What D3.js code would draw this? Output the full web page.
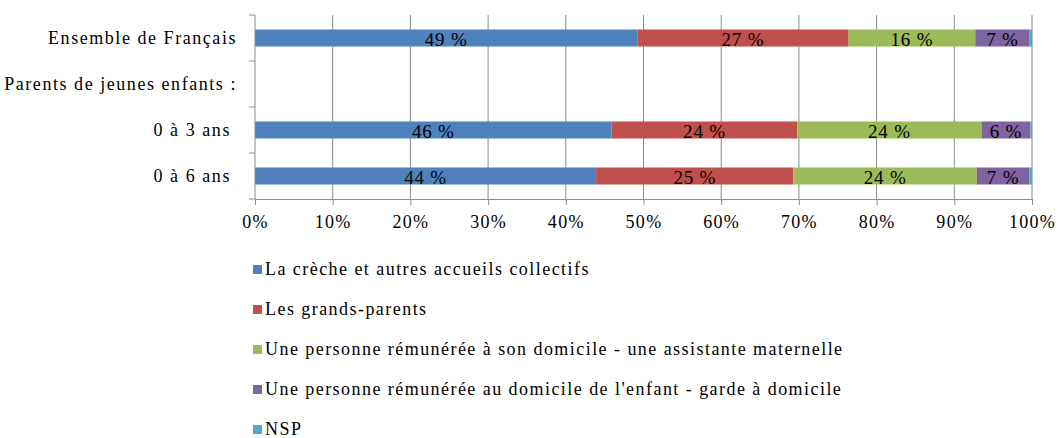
<!DOCTYPE html>
<html>
<head>
<meta charset="utf-8">
<script src="https://cdn.jsdelivr.net/npm/d3@7"></script>
<style>
  body { margin: 0; background: #fff; }
  #chart text { fill: #000; white-space: pre; }
</style>
</head>
<body>
<div id="chart"></div>
<script>
// categories (the second one is only a header line, no bar)
var categories = ["Ensemble de Français", "Parents de jeunes enfants :", "0 à 3 ans ", "0 à 6 ans "];
var seriesNames = [
  "La crèche et autres accueils collectifs",
  "Les grands-parents",
  "Une personne rémunérée à son domicile - une assistante maternelle",
  "Une personne rémunérée au domicile de l'enfant - garde à domicile",
  "NSP"
];
var seriesColors = ["#4F81BD", "#C0504D", "#9BBB59", "#8064A2", "#4BACC6"];
// values in % per category, null = no bar
var creche        = [49.2, null, 45.9, 43.9];
var grandsParents = [27.2, null, 23.9, 25.4];
var assistante    = [16.3, null, 23.7, 23.6];
var gardeDomicile = [7.0, null, 6.3, 6.75];
var nsp           = [0.3, null, 0.2, 0.35];
var xTicks = [0, 10, 20, 30, 40, 50, 60, 70, 80, 90, 100];

var series = [creche, grandsParents, assistante, gardeDomicile, nsp];

var width = 1058, height = 438;
var margin = {top: 15, left: 255, right: 26, bottom: 239};
var FONT = "'Liberation Serif', 'Times New Roman', Tinos, 'Noto Serif', 'DejaVu Serif', serif";

var svg = d3.select("#chart").append("svg")
    .attr("width", width)
    .attr("height", height)
    .attr("font-family", FONT);

var x = d3.scaleLinear().domain([0, 100]).range([margin.left, width - margin.right]);
var y = d3.scaleBand()
    .domain(categories)
    .range([margin.top, height - margin.bottom])
    .paddingInner(0.63)
    .paddingOuter(0.315);

// vertical gridlines
svg.append("g")
  .selectAll("line")
  .data(xTicks.slice(1))
  .enter().append("line")
    .attr("x1", function(d) { return x(d); })
    .attr("x2", function(d) { return x(d); })
    .attr("y1", margin.top)
    .attr("y2", height - margin.bottom)
    .attr("stroke", "#8c8c8c")
    .attr("stroke-width", 1);

// stacked bars
var rows = [];
categories.forEach(function(c, i) {
  if (creche[i] == null) return;
  var acc = 0;
  series.forEach(function(s, k) {
    rows.push({cat: c, k: k, x0: acc, x1: acc + s[i], v: s[i]});
    acc += s[i];
  });
});

svg.append("g")
  .selectAll("rect")
  .data(rows)
  .enter().append("rect")
    .attr("x", function(d) { return x(d.x0); })
    .attr("width", function(d) { return x(d.x1) - x(d.x0); })
    .attr("y", function(d) { return y(d.cat); })
    .attr("height", y.bandwidth())
    .attr("fill", function(d) { return seriesColors[d.k]; });

// value labels
svg.append("g")
  .selectAll("text")
  .data(rows.filter(function(d) { return d.k < 4; }))
  .enter().append("text")
    .attr("x", function(d) { return (x(d.x0) + x(d.x1)) / 2; })
    .attr("y", function(d) { return y(d.cat) + y.bandwidth() / 2; })
    .attr("dy", "0.42em")
    .attr("text-anchor", "middle")
    .attr("font-family", FONT)
    .style("font-size", "19px")
    .style("letter-spacing", "0.8px")
    .text(function(d) { return Math.round(d.v) + " %"; });

// y axis
var yAxis = svg.append("g");
yAxis.append("line")
    .attr("x1", x(0)).attr("x2", x(0))
    .attr("y1", margin.top).attr("y2", height - margin.bottom)
    .attr("stroke", "#8c8c8c");
yAxis.selectAll("line.tick")
  .data(d3.range(categories.length + 1))
  .enter().append("line")
    .attr("class", "tick")
    .attr("x1", x(0) - 6).attr("x2", x(0))
    .attr("y1", function(i) { return margin.top + i * y.step(); })
    .attr("y2", function(i) { return margin.top + i * y.step(); })
    .attr("stroke", "#8c8c8c");
yAxis.selectAll("text")
  .data(categories)
  .enter().append("text")
    .attr("x", x(0) - 18)
    .attr("y", function(d) { return y(d) + y.bandwidth() / 2; })
    .attr("dy", "0.36em")
    .attr("text-anchor", "end")
    .attr("font-family", FONT)
    .style("font-size", "18px")
    .style("letter-spacing", "1.55px")
    .text(function(d) { return d; });

// x axis
var xAxis = d3.axisBottom(x)
    .tickValues(xTicks)
    .tickSize(6)
    .tickFormat(function(d) { return d + "%"; });
var gx = svg.append("g")
    .attr("transform", "translate(0," + (height - margin.bottom) + ")")
    .call(xAxis)
    .attr("font-family", FONT);
gx.select(".domain").attr("stroke", "#8c8c8c");
gx.selectAll(".tick line").attr("stroke", "#8c8c8c");
gx.selectAll(".tick text")
    .attr("y", 16)
    .style("font-size", "18px")
    .style("letter-spacing", "1.3px")
    .attr("fill", "#000");

// legend
var legend = svg.append("g");
var item = legend.selectAll("g")
  .data(seriesNames)
  .enter().append("g")
    .attr("transform", function(d, i) { return "translate(253," + (269 + i * 40) + ")"; });
item.append("rect")
    .attr("x", 0).attr("y", -4)
    .attr("width", 9).attr("height", 9)
    .attr("fill", function(d, i) { return seriesColors[i]; });
item.append("text")
    .attr("x", 12)
    .attr("dy", "0.33em")
    .attr("font-family", FONT)
    .style("font-size", "18px")
    .style("letter-spacing", "1.45px")
    .text(function(d) { return d; });
</script>
</body>
</html>
